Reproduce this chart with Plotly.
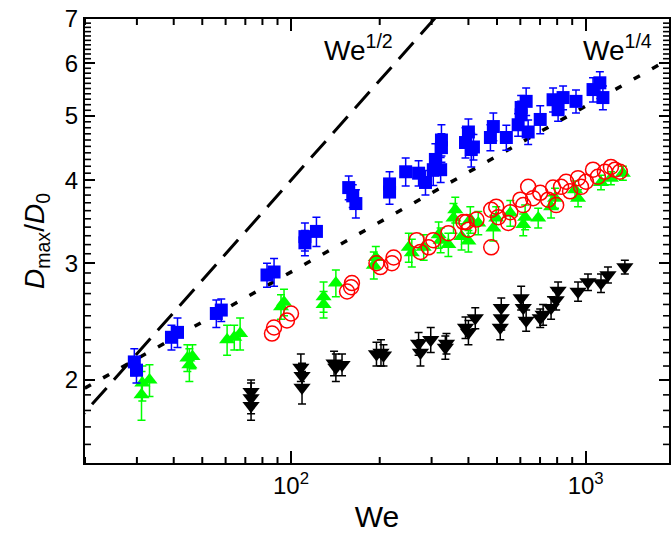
import plotly.graph_objects as go

# ---- data (We, Dmax/D0) ----
blue_we = [29.4, 29.9, 39.3, 41.2, 55.8, 58.0, 82.9, 87.6, 111.5, 111.5, 122, 157, 162, 166, 216, 216,
           245, 271, 286, 304, 309, 322, 324, 324, 391, 400, 409, 416, 475, 486, 538, 590, 604, 604, 628, 638,
           701, 775, 806, 838, 927, 1059, 1117, 1144]
blue_d = [2.13, 2.07, 2.32, 2.36, 2.52, 2.55, 2.88, 2.91, 3.29, 3.22, 3.35, 3.90, 3.79, 3.69, 3.95, 3.84,
          4.12, 4.10, 3.97, 4.15, 4.30, 4.15, 4.60, 4.48, 4.56, 4.73, 4.45, 4.49, 4.64, 4.82, 4.64, 4.85, 5.02, 5.15, 5.26, 4.73,
          4.94, 5.29, 5.11, 5.33, 5.26, 5.48, 5.61, 5.33]
blue_err = [0.10, 0.09, 0.10, 0.12, 0.12, 0.10, 0.12, 0.14, 0.16, 0.14, 0.17, 0.16, 0.15, 0.18, 0.17, 0.16,
            0.20, 0.18, 0.17, 0.22, 0.24, 0.18, 0.25, 0.22, 0.24, 0.22, 0.26, 0.20, 0.21, 0.23, 0.20, 0.19, 0.24, 0.22, 0.25, 0.20,
            0.24, 0.22, 0.20, 0.22, 0.21, 0.23, 0.22, 0.22]

green_we = [31.1, 31.3, 33.1, 44.5, 45.2, 46.3, 60.7, 64.2, 67.2, 92.5, 94.7, 129, 129, 142, 191, 194,
            251, 257, 282, 317, 322, 356, 361, 379, 406, 432, 486, 497, 555, 614, 623, 690, 763, 787,
            920, 942, 1127, 1218, 1337, 342, 400]
green_d = [1.90, 1.98, 2.00, 2.16, 2.11, 2.17, 2.30, 2.32, 2.35, 2.58, 2.62, 2.67, 2.60, 2.80, 2.98, 3.06,
           3.17, 3.11, 3.17, 3.31, 3.25, 3.51, 3.61, 3.29, 3.49, 3.45, 3.39, 3.51, 3.57, 3.43, 3.52, 3.51, 3.65, 3.76,
           3.87, 3.76, 3.97, 4.03, 4.10, 3.20, 3.24]
green_err = [0.16, 0.12, 0.11, 0.10, 0.12, 0.09, 0.12, 0.10, 0.13, 0.11, 0.12, 0.14, 0.12, 0.13, 0.14, 0.12,
             0.16, 0.15, 0.14, 0.15, 0.14, 0.18, 0.16, 0.15, 0.16, 0.14, 0.15, 0.14, 0.16, 0.13, 0.15, 0.12, 0.14, 0.13,
             0.12, 0.11, 0.10, 0.09, 0.10, 0.13, 0.12]

red_we = [86.2, 87.6, 96.9, 100, 155, 160, 161, 201, 195, 220, 223, 267, 275, 293, 304, 342, 385,
          394, 400, 426, 478, 478, 497, 505, 546, 555, 600, 614, 638, 663, 701, 746, 775, 794, 825, 858, 885,
          942, 964, 1002, 1059, 1100, 1162, 1218, 1257, 1306]
red_d = [2.35, 2.40, 2.46, 2.52, 2.72, 2.76, 2.80, 2.96, 3.00, 3.00, 3.06, 3.25, 3.12, 3.17, 3.25, 3.33, 3.46,
         3.46, 3.37, 3.49, 3.17, 3.61, 3.65, 3.52, 3.45, 3.58, 3.74, 3.67, 3.91, 3.76, 3.83, 3.74, 3.90, 3.67, 3.91, 3.98, 3.85,
         4.03, 3.91, 3.98, 4.15, 4.05, 4.12, 4.19, 4.15, 4.12]

black_we = [73.2, 73.2, 73.2, 108, 109, 109, 140, 142, 149, 195, 202, 206, 271, 275, 298, 334, 337,
            391, 400, 422, 513, 517, 517, 604, 614, 628, 701, 717, 763, 794, 806, 942, 1018, 1127, 1190, 1358]
black_d = [1.92, 1.88, 1.83, 2.09, 2.03, 1.95, 2.12, 2.09, 2.11, 2.19, 2.20, 2.18, 2.27, 2.20, 2.30, 2.24, 2.27,
           2.40, 2.36, 2.48, 2.40, 2.57, 2.48, 2.66, 2.57, 2.46, 2.48, 2.51, 2.57, 2.64, 2.73, 2.72, 2.81, 2.80, 2.88, 2.96]
black_err = [0.08, 0.10, 0.09, 0.10, 0.09, 0.11, 0.09, 0.10, 0.08, 0.09, 0.10, 0.08, 0.09, 0.10, 0.10, 0.09, 0.08,
             0.09, 0.10, 0.09, 0.10, 0.09, 0.10, 0.11, 0.10, 0.09, 0.08, 0.09, 0.10, 0.09, 0.08, 0.09, 0.08, 0.09, 0.08, 0.07]

# scaling-law reference lines  D = C * We^n
line_we = [15, 3000]
half_coef, half_exp = 0.40, 0.5
quarter_coef, quarter_exp = 0.92, 0.25

x_tickvals = [100, 1000]
x_ticktext = ["10<sup>2</sup>", "10<sup>3</sup>"]
x_minor = [20, 30, 40, 50, 60, 70, 80, 90, 200, 300, 400, 500, 600, 700, 800, 900]
y_tickvals = [2, 3, 4, 5, 6, 7]
y_minor = [1.6, 1.7, 1.8, 1.9, 2.1, 2.2, 2.3, 2.4, 2.5, 2.6, 2.7, 2.8, 2.9, 3.1, 3.2, 3.3, 3.4, 3.5, 3.6, 3.7,
           3.8, 3.9, 4.1, 4.2, 4.3, 4.4, 4.5, 4.6, 4.7, 4.8, 4.9, 5.1, 5.2, 5.3, 5.4, 5.5, 5.6, 5.7, 5.8, 5.9,
           6.1, 6.2, 6.3, 6.4, 6.5, 6.6, 6.7, 6.8, 6.9]

FONT = "Liberation Sans, Arial, sans-serif"
W, H = 671, 535
ML, MR, MT, MB = 85, 0, 19, 72
PW, PH = W - ML - MR, H - MT - MB

fig = go.Figure()

fig.add_trace(go.Scatter(x=line_we, y=[half_coef * w ** half_exp for w in line_we], mode="lines",
                         line=dict(color="black", width=3, dash="22px,11px"), showlegend=False))
fig.add_trace(go.Scatter(x=line_we, y=[quarter_coef * w ** quarter_exp for w in line_we], mode="lines",
                         line=dict(color="black", width=3.5, dash="7px,14px"), showlegend=False))

fig.add_trace(go.Scatter(x=black_we, y=black_d, mode="markers",
                         marker=dict(symbol="triangle-down", size=15, color="black"),
                         error_y=dict(type="data", array=black_err, color="black", thickness=1.5, width=4),
                         showlegend=False))
fig.add_trace(go.Scatter(x=green_we, y=green_d, mode="markers",
                         marker=dict(symbol="triangle-up", size=14, color="#00ff00"),
                         error_y=dict(type="data", array=green_err, color="#00ff00", thickness=1.5, width=4),
                         showlegend=False))
fig.add_trace(go.Scatter(x=blue_we, y=blue_d, mode="markers",
                         marker=dict(symbol="square", size=13, color="#0000ff"),
                         error_y=dict(type="data", array=blue_err, color="#0000ff", thickness=1.5, width=4),
                         showlegend=False))
fig.add_trace(go.Scatter(x=red_we, y=red_d, mode="markers",
                         marker=dict(symbol="circle-open", size=15, color="#ff0000", line=dict(width=1.5)),
                         showlegend=False))

fig.add_annotation(x=(323 - ML) / PW, y=0.935, xref="paper", yref="paper", text="We<sup>1/2</sup>", showarrow=False,
                   font=dict(family=FONT, size=28, color="black"), xanchor="left", yanchor="middle")
fig.add_annotation(x=(583 - ML) / PW, y=0.935, xref="paper", yref="paper", text="We<sup>1/4</sup>", showarrow=False,
                   font=dict(family=FONT, size=28, color="black"), xanchor="left", yanchor="middle")

# minor ticks (inside, on all four sides); shape coords on log axes given in data units
shapes = []
mx = 6 / PH
for v in x_minor:
    shapes.append(dict(type="line", xref="x", yref="paper", x0=v, x1=v, y0=0, y1=mx,
                       line=dict(color="black", width=2)))
    shapes.append(dict(type="line", xref="x", yref="paper", x0=v, x1=v, y0=1, y1=1 - mx,
                       line=dict(color="black", width=2)))
my = 6 / PW
for v in y_minor:
    shapes.append(dict(type="line", xref="paper", yref="y", x0=0, x1=my, y0=v, y1=v,
                       line=dict(color="black", width=1.6)))
    shapes.append(dict(type="line", xref="paper", yref="y", x0=1, x1=1 - my, y0=v, y1=v,
                       line=dict(color="black", width=1.6)))

fig.update_layout(
    width=W, height=H,
    margin=dict(l=ML, r=MR, t=MT, b=MB),
    paper_bgcolor="white", plot_bgcolor="white",
    font=dict(family=FONT, color="black"),
    shapes=shapes,
    xaxis=dict(type="log", range=[1.3010, 3.2827], tickmode="array", tickvals=x_tickvals, ticktext=x_ticktext,
               ticks="inside", ticklen=12, tickwidth=2, tickcolor="black",
               showline=True, linecolor="black", linewidth=2, mirror="allticks", showgrid=False, zeroline=False,
               tickfont=dict(size=24, family=FONT),
               title=dict(text="We", font=dict(size=30, family=FONT), standoff=8)),
    yaxis=dict(type="log", range=[0.17609, 0.84510], tickmode="array", tickvals=y_tickvals,
               ticktext=[str(v) for v in y_tickvals],
               ticks="inside", ticklen=10, tickwidth=2, tickcolor="black",
               showline=True, linecolor="black", linewidth=2, mirror="allticks", showgrid=False, zeroline=False,
               tickfont=dict(size=24, family=FONT),
               title=dict(text="<i>D</i><sub>max</sub>/<i>D</i><sub>0</sub>", font=dict(size=28, family=FONT), standoff=12)),
)

fig.write_html("out.html")
